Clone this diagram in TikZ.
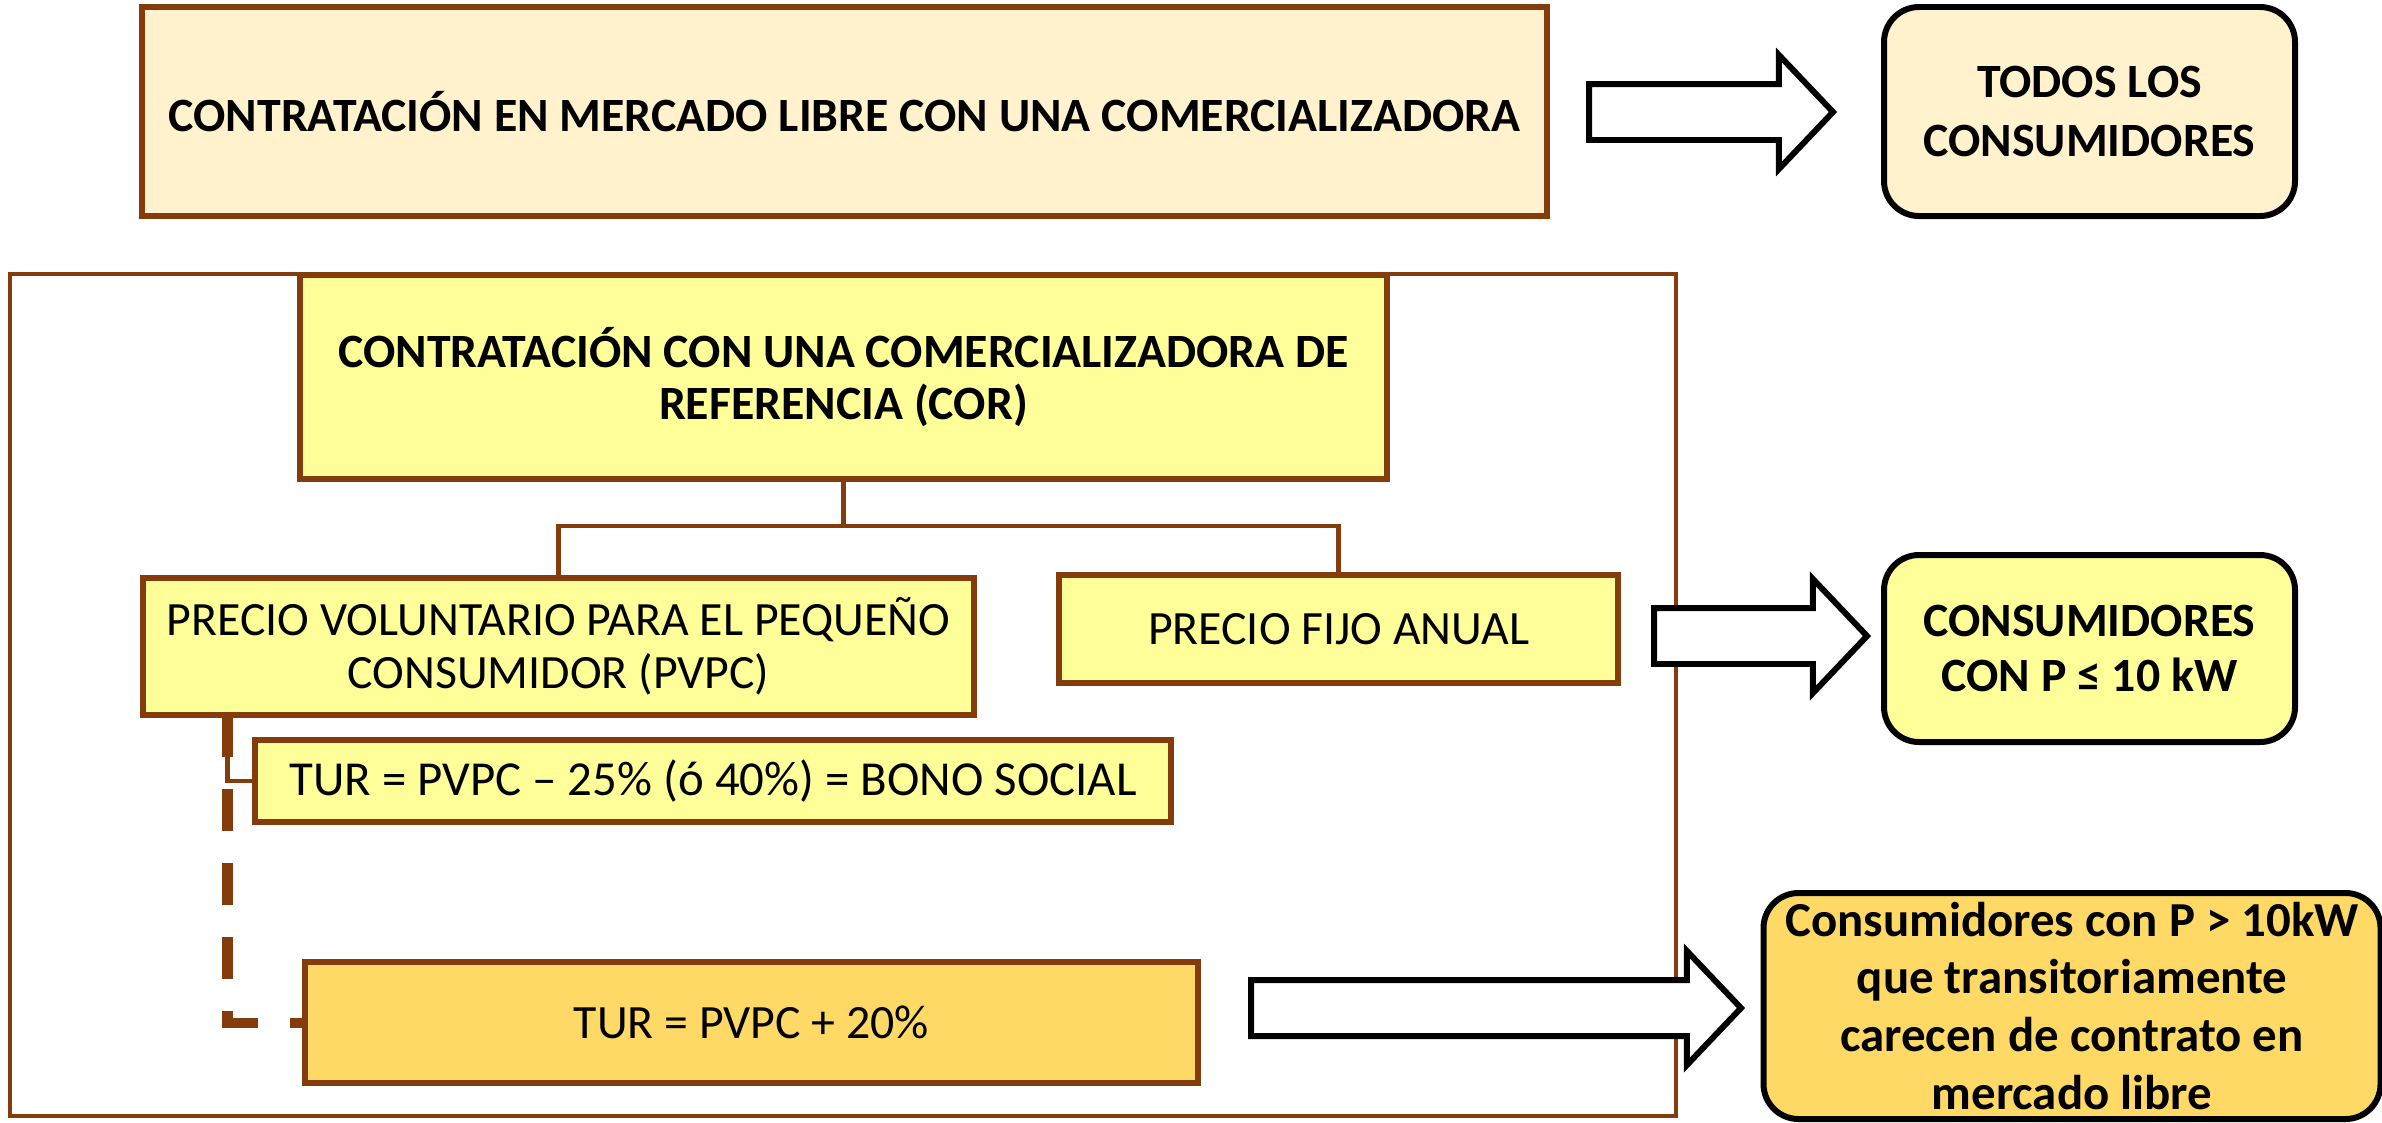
\documentclass[tikz,border=0pt]{standalone}
\usepackage{fontspec}
\setmainfont{Carlito}
\usetikzlibrary{positioning,shapes.arrows}

\definecolor{cobrown}{RGB}{132,60,12}
\definecolor{cocream}{HTML}{FFF2CC}
\definecolor{coyellow}{HTML}{FFFF99}
\definecolor{cogold}{HTML}{FFD966}

\begin{document}
\begin{tikzpicture}[
  outer sep = 0pt,
  brown-box/.style={draw=cobrown,line width=1.5pt,inner sep=1pt,align=center},
  round-box/.style={draw=black,line width=1.7pt,rounded corners=0.35cm,align=center,inner sep=0pt,
    font=\bfseries\fontsize{13.6}{16.8}\selectfont},
  big-arrow/.style={single arrow,draw=black,fill=white,line width=1.7pt,anchor=tail,
    inner xsep=0pt,inner ysep=0.25cm,
    single arrow head extend=0.29cm,single arrow tip angle=93},
  tree-line/.style={draw=cobrown,line width=1.2pt},
  ]
  \useasboundingbox (0,0) rectangle (23.82,-11.22);

  \node[draw=cobrown,line width=1.1pt,minimum width=16.66cm,minimum height=8.42cm]
    (cor-frame) at (8.43,-6.95) {};

  \node[brown-box,fill=cocream,minimum width=14.05cm,minimum height=2.09cm,
    font=\bfseries\fontsize{13.6}{16}\selectfont] (libre) at (8.445,-1.115)
    {CONTRATACIÓN EN MERCADO LIBRE CON UNA COMERCIALIZADORA};
  \node[round-box,fill=cocream,minimum width=4.11cm,minimum height=2.09cm,
    right=3.37cm of libre] (todos) {TODOS LOS\\CONSUMIDORES};

  \node[brown-box,fill=coyellow,minimum width=10.87cm,minimum height=2.04cm,
    font=\bfseries\fontsize{13.6}{14.8}\selectfont] (cor) at (8.435,-3.77)
    {CONTRATACIÓN CON UNA COMERCIALIZADORA DE\\REFERENCIA (COR)};
  \node[brown-box,fill=coyellow,minimum width=8.31cm,minimum height=1.37cm,
    font=\fontsize{13.6}{15.1}\selectfont] (pvpc) at (5.585,-6.465)
    {PRECIO VOLUNTARIO PARA EL PEQUEÑO\\CONSUMIDOR (PVPC)};
  \node[brown-box,fill=coyellow,minimum width=5.59cm,minimum height=1.08cm,
    font=\fontsize{13.6}{15.1}\selectfont] (fijo) at (13.385,-6.29)
    {PRECIO FIJO ANUAL};
  \node[brown-box,fill=coyellow,minimum width=9.16cm,minimum height=0.82cm,
    font=\fontsize{13.9}{15.1}\selectfont] (bono) at (7.13,-7.81)
    {TUR = PVPC – 25\% (ó 40\%) = BONO SOCIAL};
  \node[brown-box,fill=cogold,minimum width=8.93cm,minimum height=1.21cm,
    font=\fontsize{13.6}{15.1}\selectfont] (tur) at (7.515,-10.225)
    {TUR = PVPC + 20\%};

  \node[round-box,fill=coyellow,minimum width=4.11cm,minimum height=1.87cm,
    font=\bfseries\fontsize{13.6}{15.9}\selectfont,below=3.39cm of todos]
    (cons) {CONSUMIDORES\\CON P ≤ 10 kW};
  \node[round-box,fill=cogold,minimum width=6.17cm,minimum height=2.26cm,
    font=\bfseries\fontsize{13.9}{16.5}\selectfont] (transit) at (20.72,-10.06)
    {Consumidores con P > 10kW\\que transitoriamente\\carecen de contrato en\\mercado libre};

  \node[big-arrow,minimum height=2.44cm] (arrow-libre) at (15.89,-1.12) {};
  \node[big-arrow,minimum height=2.13cm] (arrow-cor) at (16.54,-6.36) {};
  \node[big-arrow,minimum height=4.90cm] (arrow-tur) at (12.51,-10.08) {};

  \draw[tree-line] (cor.south) -- ++(0,-0.47) -| (pvpc.north);
  \draw[tree-line] (cor.south) -- ++(0,-0.47) -| (fijo.north);
  \draw[tree-line,line width=1.4pt] ([xshift=0.845cm]pvpc.south west) |- (bono.west);
  \draw[draw=cobrown,line width=2.85pt,dash pattern=on 0.42cm off 0.32cm]
    ([xshift=0.845cm]pvpc.south west) |- (tur.west);
\end{tikzpicture}
\end{document}
